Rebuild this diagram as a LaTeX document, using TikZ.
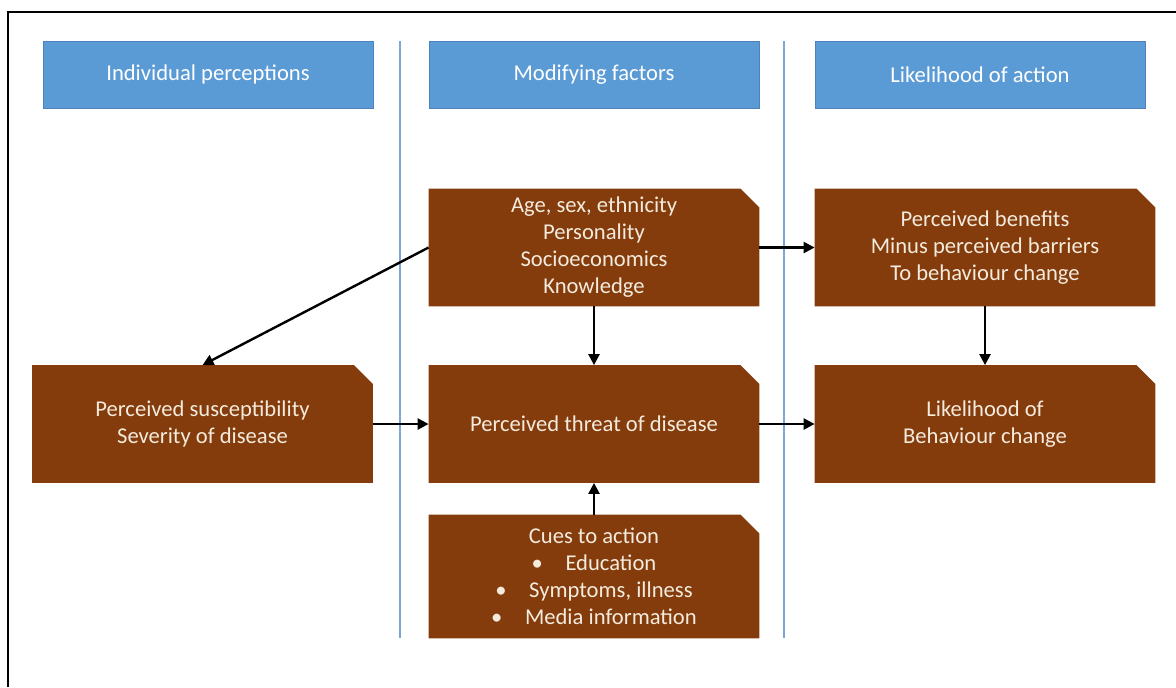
\documentclass[tikz,border=0pt]{standalone}
\usepackage{fontspec}
\setmainfont{Carlito}
\usetikzlibrary{arrows.meta,backgrounds}
\definecolor{hblue}{HTML}{5B9BD5}
\definecolor{hedge}{HTML}{4F81BD}
\definecolor{sepblue}{HTML}{7AA7D6}
\definecolor{rust}{HTML}{843C0C}
\definecolor{cream}{HTML}{F4EBDD}
\begin{document}
\begin{tikzpicture}[x=0.5pt,y=-0.5pt]
    % Define styles for boxes and arrows
    \tikzstyle{header}=[rectangle, fill=hblue, draw=hedge, line width=0.4pt, text=white, minimum width=165pt, minimum height=33.5pt, inner sep=0pt, font=\fontsize{11.3}{13.5}\selectfont]
    \tikzstyle{factor}=[rectangle, text=cream, minimum width=165pt, minimum height=58.5pt, inner sep=0pt, align=center, font=\fontsize{11.3}{13.5}\selectfont]
    \tikzstyle{wide}=[minimum width=170pt]
    \tikzstyle{link}=[line width=1.2pt, -{Triangle[length=5.5pt,width=5.5pt]}]
    \tikzstyle{divider}=[sepblue, line width=1pt]

    % Frame
    \useasboundingbox (0,0) rectangle (1176,687);
    \draw[line width=1.2pt] (8,687) -- (8,12) -- (1176,12);

    % Column dividers
    \coordinate (s1top) at (400,41);
    \coordinate (s1bot) at (400,638);
    \coordinate (s2top) at (784,41);
    \coordinate (s2bot) at (784,638);
    \draw[divider] (s1top) -- (s1bot);
    \draw[divider] (s2top) -- (s2bot);

    % Column headers
    \node[header] (hindiv) at (208,74.5) {Individual perceptions};
    \node[header] (hmod) at (594,74.5) {Modifying factors};
    \node[header] (hlike) at (980,74.5) {Likelihood of action};

    % Modifying factors
    \node[factor] (age) at (594,247.5) {Age, sex, ethnicity\\Personality\\Socioeconomics\\Knowledge};
    \node[factor] (threat) at (594,424) {Perceived threat of disease};
    \node[factor, minimum height=61.5pt] (cues) at (594,576.5) {Cues to action\\\textbullet\quad Education\\\textbullet\quad Symptoms, illness\\\textbullet\quad Media information};

    % Individual perceptions
    \node[factor, wide] (suscept) at (202.5,424) {Perceived susceptibility\\Severity of disease};

    % Likelihood of action
    \node[factor, wide] (benefits) at (985,247.5) {Perceived benefits\\Minus perceived barriers\\To behaviour change};
    \node[factor, wide] (likely) at (985,424) {Likelihood of\\Behaviour change};

    % Snipped box fills
    \begin{scope}[on background layer]
        \fill[white] (0,0) rectangle (1176,687);
        \foreach \n in {age,threat,cues,suscept,benefits,likely}
            \fill[rust] (\n.south west) -- (\n.north west) -- ([xshift=-9.5pt]\n.north east)
                -- ([yshift=-9.5pt]\n.north east) -- (\n.south east) -- cycle;
    \end{scope}

    % Arrows
    \draw[link] (age.west) -- (suscept.north);
    \draw[link] (age.south) -- (threat.north);
    \draw[link] (age.east) -- (benefits.west);
    \draw[link] (suscept.east) -- (threat.west);
    \draw[link] (threat.east) -- (likely.west);
    \draw[link] (benefits.south) -- (likely.north);
    \draw[link] (cues.north) -- (threat.south);

\end{tikzpicture}
\end{document}
